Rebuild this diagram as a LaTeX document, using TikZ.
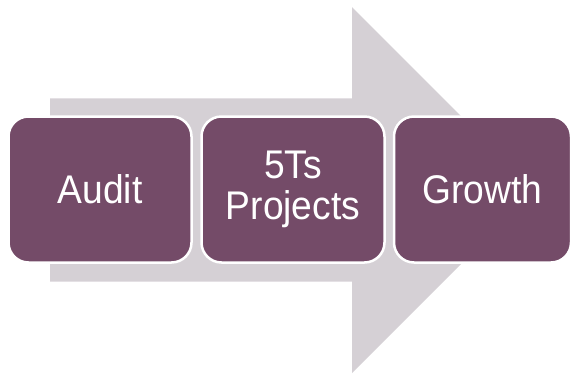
\documentclass[tikz,border=0pt]{standalone}
\usepackage{fontspec}
\setmainfont{Liberation Sans}[FakeStretch=0.93]
\definecolor{arrowgray}{HTML}{D5D0D5}
\definecolor{boxpurple}{HTML}{744B68}
\begin{document}
\begin{tikzpicture}[x=1pt,y=-1pt,
  stepbox/.style={rectangle, rounded corners=20pt, fill=boxpurple, draw=white,
    line width=2.5pt, minimum height=146pt, text=white, align=center,
    font=\fontsize{40}{41}\selectfont, inner sep=0pt}]
\useasboundingbox (0,0) rectangle (571,373);
\fill[arrowgray] (50,98.3) -- (352,98.3) -- (352,7) -- (535,190) -- (352,373)
  -- (352,281.7) -- (50,281.7) -- cycle;
\node[stepbox, minimum width=183pt] (audit) at (100,189.5) {Audit};
\node[stepbox, minimum width=183pt] (proj) at (293,189.5) {5Ts\\Projects};
\node[stepbox, minimum width=177pt] (growth) at (482.5,189.5) {Growth};
\end{tikzpicture}
\end{document}
